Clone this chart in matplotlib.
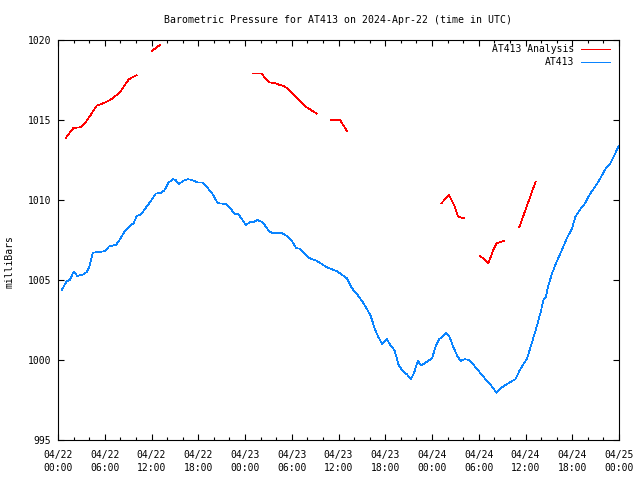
import pandas as pd
import matplotlib
matplotlib.use('Agg')
import matplotlib.pyplot as plt
import matplotlib.dates as mdates

# observed pressure (hours after 2024-04-22 00:00 UTC, mbar)
obs_hours = [0.5, 1.1, 1.5, 2.0, 2.5, 3.25, 3.7, 4.0, 4.45, 5.2, 6.0, 6.55, 7.45, 7.9,
             8.5, 9.25, 9.7, 10.1, 10.65, 11.4, 12.0, 12.55, 13.2, 13.65, 14.2, 14.8,
             15.1, 15.5, 16.1, 16.7, 17.2, 17.9, 18.5, 19.3, 19.8, 20.5, 21.5, 22.1,
             22.7, 23.1, 23.6, 24.1, 24.6, 25.2, 25.6, 26.3, 27.0, 27.4, 28.7, 29.35,
             30.0, 30.55, 31.1, 32.1, 33.2, 34.5, 35.8, 37.1, 37.7, 38.4, 39.2, 40.1,
             40.7, 41.1, 41.6, 42.2, 42.7, 43.2, 43.7, 44.25, 44.8, 45.3, 45.7, 46.2,
             46.6, 47.2, 48.0, 48.5, 48.9, 49.3, 49.8, 50.2, 50.75, 51.3, 51.7, 52.25,
             52.8, 53.5, 54.6, 55.45, 56.3, 57.0, 57.8, 58.7, 59.3, 60.2, 60.8, 61.45,
             62.0, 62.3, 62.6, 62.9, 63.4, 64.0, 64.7, 65.3, 65.95, 66.4, 67.0, 67.65,
             68.3, 68.9, 69.6, 70.2, 70.9, 72.0]
obs_mbar = [1004.4, 1004.9, 1005.0, 1005.5, 1005.25, 1005.35, 1005.5, 1005.8, 1006.7,
            1006.75, 1006.8, 1007.1, 1007.2, 1007.5, 1008.0, 1008.4, 1008.55, 1009.0,
            1009.1, 1009.6, 1010.0, 1010.4, 1010.45, 1010.6, 1011.1, 1011.3, 1011.25,
            1011.0, 1011.2, 1011.3, 1011.25, 1011.1, 1011.1, 1010.7, 1010.4, 1009.8,
            1009.75, 1009.5, 1009.1, 1009.15, 1008.8, 1008.45, 1008.6, 1008.65, 1008.75,
            1008.6, 1008.1, 1007.95, 1007.95, 1007.75, 1007.45, 1007.0, 1006.95, 1006.4,
            1006.2, 1005.8, 1005.55, 1005.1, 1004.5, 1004.1, 1003.55, 1002.8, 1001.9,
            1001.45, 1001.0, 1001.3, 1000.9, 1000.6, 999.7, 999.3, 999.1, 998.8, 999.2,
            999.95, 999.65, 999.85, 1000.1, 1000.9, 1001.3, 1001.45, 1001.7, 1001.5,
            1000.8, 1000.2, 999.95, 1000.05, 1000.0, 999.6, 998.95, 998.5, 997.95, 998.3,
            998.55, 998.8, 999.4, 1000.1, 1001.05, 1002.1, 1003.1, 1003.75, 1003.9,
            1004.6, 1005.4, 1006.15, 1006.9, 1007.6, 1008.2, 1008.95, 1009.4, 1009.8,
            1010.4, 1010.8, 1011.35, 1011.9, 1012.3, 1013.4]

# analysis segments (broken line)
ana_hours = [
    [1.03, 1.97, 2.95, 3.47, 4.1, 4.97, 5.6, 6.7, 7.5, 8.05, 8.6, 9.1, 10.1],
    [12.0, 13.1],
    [25.0, 26.15, 26.6, 27.1, 27.85, 28.4, 29.1, 29.8, 30.6, 31.3, 31.9, 32.55, 33.2],
    [35.05, 36.2, 37.1],
    [49.2, 50.2, 50.9, 51.3, 51.7, 52.15],
    [54.2, 55.25, 55.8, 56.3, 57.2],
    [59.2, 61.3],
]
ana_mbar = [
    [1013.9, 1014.5, 1014.55, 1014.8, 1015.25, 1015.9, 1016.0, 1016.25, 1016.55, 1016.8,
     1017.2, 1017.55, 1017.8],
    [1019.3, 1019.7],
    [1017.9, 1017.9, 1017.6, 1017.35, 1017.3, 1017.2, 1017.1, 1016.8, 1016.4, 1016.05,
     1015.8, 1015.6, 1015.4],
    [1015.0, 1015.0, 1014.3],
    [1009.8, 1010.3, 1009.6, 1009.0, 1008.9, 1008.85],
    [1006.5, 1006.05, 1006.8, 1007.3, 1007.45],
    [1008.3, 1011.15],
]

base = pd.Timestamp('2024-04-22 00:00')
def to_time(h):
    return base + pd.to_timedelta(h, unit='h')

red = '#ff0000'
blue = '#0a84ff'
lw = 0.5
plt.rcParams['font.family'] = 'DejaVu Sans Mono'
plt.rcParams['font.size'] = 7

fig = plt.figure(figsize=(6.4, 4.8), dpi=100)
ax = fig.add_axes([58/640, 40/480, 561/640, 400/480])

for hs, ps in zip(ana_hours, ana_mbar):
    ax.plot(to_time(hs), ps, color=red, lw=lw, antialiased=False)
ax.plot(to_time(obs_hours), obs_mbar, color=blue, lw=lw, antialiased=False)

ax.set_xlim(base, base + pd.Timedelta(hours=72))
ax.set_ylim(995, 1020)
ax.set_yticks([995, 1000, 1005, 1010, 1015, 1020])
ax.xaxis.set_major_locator(mdates.HourLocator(byhour=[0, 6, 12, 18]))
ax.xaxis.set_minor_locator(mdates.HourLocator(byhour=range(0, 24, 2)))
ax.xaxis.set_major_formatter(mdates.DateFormatter('%m/%d\n%H:%M'))
ax.tick_params(which='both', direction='in', top=True, right=True, labelsize=7, width=0.8)
ax.tick_params(which='major', length=4.5)
ax.tick_params(which='minor', length=2.5)
ax.tick_params(axis='x', pad=7)
ax.tick_params(axis='y', pad=5)
for lab in ax.get_xticklabels():
    lab.set_linespacing(1.35)
for s in ax.spines.values():
    s.set_linewidth(0.8)

fig.text(0.5 + (338.5 - 320)/640, 1 - 20/480, 'Barometric Pressure for AT413 on 2024-Apr-22 (time in UTC)',
         ha='center', va='center', fontsize=7.1)
fig.text(10/640, 1 - 262/480, 'milliBars', rotation=90, ha='center', va='center', fontsize=7)

# legend drawn gnuplot-style: right aligned text, sample line after it
for i, (lab, col) in enumerate([('AT413 Analysis', red), ('AT413', blue)]):
    y = 1 - (49.5 + 13 * i - 40) / 400
    ax.text((574 - 58) / 561, y, lab, transform=ax.transAxes, ha='right', va='center', fontsize=7)
    ax.plot([(581 - 58) / 561, (610 - 58) / 561], [y, y], transform=ax.transAxes,
            color=col, lw=lw, antialiased=False)

fig.savefig('out.png', dpi=100)
